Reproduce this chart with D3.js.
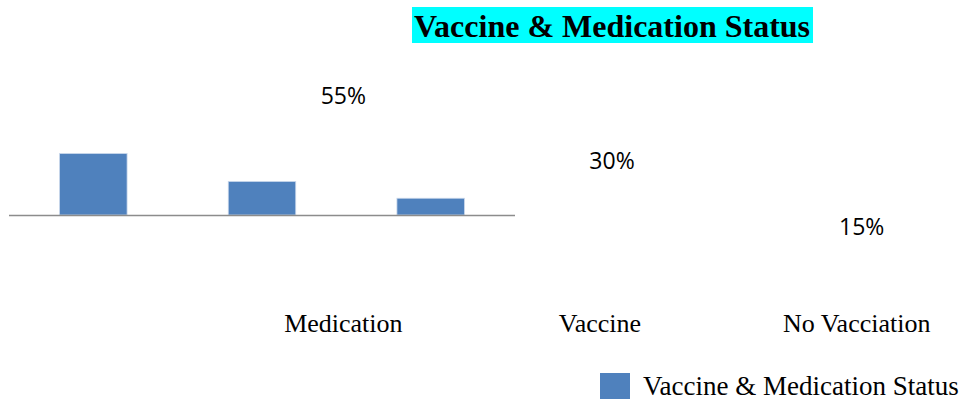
<!DOCTYPE html>
<html>
<head>
<meta charset="utf-8">
<script src="https://cdn.jsdelivr.net/npm/d3@7"></script>
<style>
  body { margin: 0; background: #fff; }
  svg { display: block; }
</style>
</head>
<body>
<svg id="chart" width="959" height="400"></svg>
<script>
// data
const categories = ["Medication", "Vaccine", "No Vacciation"];
const shares = [55, 30, 15];
const labels = ["55%", "30%", "15%"];
const seriesName = "Vaccine & Medication Status";
const chartTitle = "Vaccine & Medication Status";

const barColor = "#4F81BD";

const svg = d3.select("#chart");

// title with cyan highlight
svg
  .append("rect")
  .attr("x", 412)
  .attr("y", 7)
  .attr("width", 401)
  .attr("height", 36)
  .attr("fill", "#00FFFF");
svg
  .append("text")
  .attr("x", 612)
  .attr("y", 37)
  .attr("text-anchor", "middle")
  .attr("font-family", "Liberation Serif, Times New Roman, serif")
  .attr("font-weight", "bold")
  .attr("font-size", 32)
  .text(chartTitle);

// the small plot with the bars
const plot = { left: 9, right: 515, top: 148, bottom: 215 };

const xBar = d3
  .scaleBand()
  .domain(categories)
  .range([plot.left, plot.right])
  .paddingInner(0.6)
  .paddingOuter(0.3);

const yBar = d3
  .scaleLinear()
  .domain([0, 60])
  .range([plot.bottom, plot.top]);

svg
  .append("g")
  .selectAll("rect")
  .data(categories)
  .enter()
  .append("rect")
  .attr("x", (c) => xBar(c))
  .attr("y", (c, i) => yBar(shares[i]))
  .attr("width", xBar.bandwidth())
  .attr("height", (c, i) => plot.bottom - yBar(shares[i]))
  .attr("fill", barColor)
  .attr("stroke", "#c8d6ea")
  .attr("stroke-width", 0.8);

svg
  .append("line")
  .attr("x1", plot.left)
  .attr("x2", plot.right)
  .attr("y1", plot.bottom + 0.5)
  .attr("y2", plot.bottom + 0.5)
  .attr("stroke", "#8c8c8c")
  .attr("stroke-width", 1.5);

// labels and categories sit on a wider, detached frame
const xLab = d3
  .scaleBand()
  .domain(categories)
  .range([215, 985]);

// label heights as seen in the picture (not linear in value)
const yLab = d3
  .scaleLinear()
  .domain([15, 30, 55])
  .range([227, 161, 96]);

svg
  .append("g")
  .selectAll("text")
  .data(categories)
  .enter()
  .append("text")
  .attr("x", (c, i) => xLab(c) + xLab.bandwidth() / 2 + [0, 12, 5][i])
  .attr("y", (c, i) => yLab(shares[i]))
  .attr("dy", "0.35em")
  .attr("text-anchor", "middle")
  .attr("font-family", "Open Sans, sans-serif")
  .attr("font-size", 23)
  .attr("fill", "#000")
  .text((c, i) => labels[i]);

const xAxis = svg
  .append("g")
  .attr("transform", "translate(0, 323)")
  .call(d3.axisBottom(xLab).tickSize(0).tickPadding(0));
xAxis.select(".domain").remove();
xAxis
  .selectAll("text")
  .attr("dy", "0.35em")
  .attr("font-family", "Liberation Serif, Times New Roman, serif")
  .attr("font-size", 26)
  .attr("fill", "#000");

// legend
const legend = svg.append("g").attr("transform", "translate(600, 373)");
legend
  .append("rect")
  .attr("width", 30)
  .attr("height", 26)
  .attr("fill", barColor);
legend
  .append("text")
  .attr("x", 43)
  .attr("y", 13)
  .attr("dy", "0.35em")
  .attr("font-family", "Liberation Serif, Times New Roman, serif")
  .attr("font-size", 27)
  .text(seriesName);
</script>
</body>
</html>
